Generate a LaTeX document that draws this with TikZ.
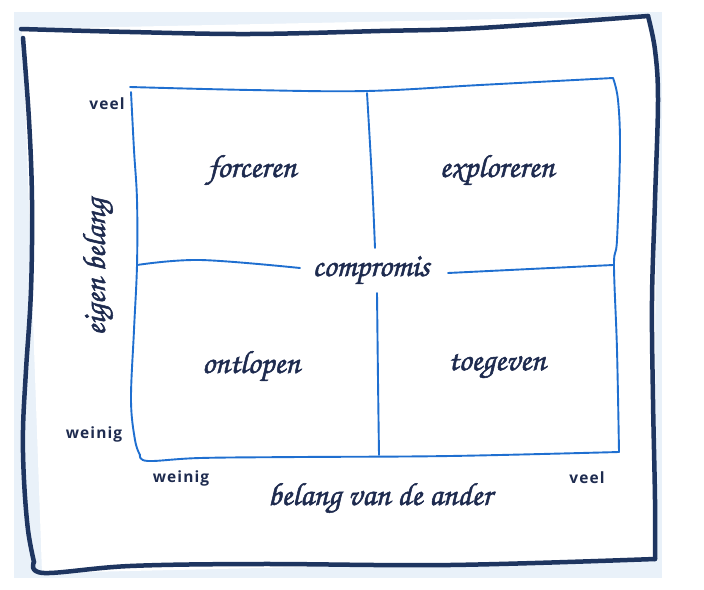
\documentclass[tikz,border=0pt]{standalone}
\usepackage{fontspec}
\newfontfamily\labfont[LetterSpace=7]{Open Sans}
\newfontfamily\hand[FakeBold=1.6]{texgyrechorus-mediumitalic.otf}
\definecolor{bgblue}{HTML}{E9F1F9}
\definecolor{navy}{HTML}{1E3560}
\definecolor{gridblue}{HTML}{1F6FD0}
\definecolor{inkc}{HTML}{1E2B4F}
\tikzset{
  frameline/.style={draw=navy, line width=4.5pt, line cap=round, line join=round},
  gridline/.style={draw=gridblue, line width=1.9pt, line cap=round, line join=round},
  quad/.style={text=inkc, font=\hand\fontsize{32}{32}\selectfont, inner sep=0pt},
  axislab/.style={text=inkc, font=\hand\fontsize{32}{32}\selectfont, inner sep=0pt},
  tick/.style={text=inkc, font=\labfont\bfseries\fontsize{15.5}{15.5}\selectfont, inner sep=0pt}
}
\begin{document}
\begin{tikzpicture}[x=1pt,y=-1pt]
\useasboundingbox (0,0) rectangle (704,589);
\fill[white] (0,0) rectangle (704,589);
\fill[bgblue] (14,12) rectangle (662,578);
\fill[white] (21,29) -- (648,16) -- (656,60) -- (655,559) -- (42,573) -- (23,38) -- cycle;
% hand-drawn frame
\draw[frameline] plot[smooth, tension=0.6] coordinates {(21,29) (130,32) (250,34) (380,31) (480,28) (648,16)};
\draw[frameline] plot[smooth, tension=0.6] coordinates {(648,16) (655,50) (658,100) (655,200) (652,300) (653,400) (655,500) (655,559)};
\draw[frameline] plot[smooth, tension=0.6] coordinates {(655,559) (450,565) (260,564) (130,566) (44,573) (34,562)};
\draw[frameline] plot[smooth, tension=0.6] coordinates {(34,562) (28,530) (24,480) (23,430) (26,370) (31,290) (32,200) (29,120) (23,38)};
% grid
\draw[gridline] plot[smooth, tension=0.6] coordinates {(130,87) (250,90) (367,91) (480,85) (613,78)};
\draw[gridline] plot[smooth, tension=0.6] coordinates {(613,78) (618,100) (620,150) (617,240) (614,265) (617,350) (619,452)};
\draw[gridline] plot[smooth, tension=0.6] coordinates {(619,452) (450,456) (300,457) (200,458) (148,461) (140,455)};
\draw[gridline] plot[smooth, tension=0.6] coordinates {(131,92) (134,150) (137,200) (137,265) (134,330) (131,400) (135,440) (140,455)};
\draw[gridline] plot[smooth, tension=0.6] coordinates {(137,265) (200,260) (300,268)};
\draw[gridline] plot[smooth, tension=0.6] coordinates {(448,273) (530,269) (613,265)};
\draw[gridline] plot[smooth, tension=0.6] coordinates {(367,93) (372,180) (375,248)};
\draw[gridline] plot[smooth, tension=0.6] coordinates {(377,293) (378,380) (379,455)};
% quadrant labels
\node[quad] (forceren) at (252,170) {forceren};
\node[quad] (exploreren) at (497,170) {exploreren};
\node[quad] (compromis) at (371,270) {compromis};
\node[quad] (ontlopen) at (251,366) {ontlopen};
\node[quad] (toegeven) at (497,366) {toegeven};
% axis labels
\node[axislab] (eigen) at (98,267) [rotate=90] {eigen belang};
\node[axislab] (ander) at (380,498) {belang van de ander};
% ticks
\node[tick] (yveel) at (107,104) {veel};
\node[tick] (yweinig) at (94,434) {weinig};
\node[tick] (xweinig) at (181,478) {weinig};
\node[tick] (xveel) at (587,478) {veel};
\end{tikzpicture}
\end{document}
